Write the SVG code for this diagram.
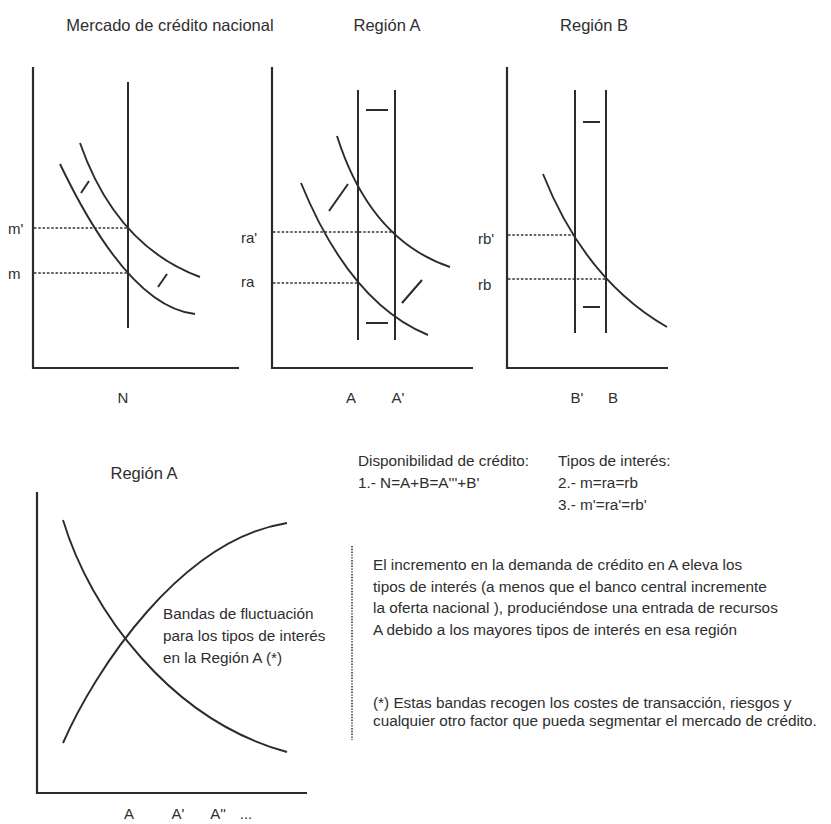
<svg xmlns="http://www.w3.org/2000/svg" width="831" height="824" viewBox="0 0 831 824">
<style>
  text { font-family: "Liberation Sans", Arial, sans-serif; fill: #2e2e2e; }
  .title { font-size: 16.5px; text-anchor: middle; }
  .lbl { font-size: 15px; }
  .ax { font-size: 15px; text-anchor: middle; }
  .body { font-size: 15.3px; }
  .axis { stroke: #2b2b2b; stroke-width: 2.2; fill: none; }
  .ln { stroke: #2b2b2b; stroke-width: 2; fill: none; }
  .curve { stroke: #2b2b2b; stroke-width: 1.9; fill: none; }
  .dash { stroke: #333; stroke-width: 1.4; stroke-dasharray: 2.5 1.8; fill: none; }
  .dot { stroke: #444; stroke-width: 1.7; stroke-dasharray: 1.4 1.4; fill: none; }
</style>
<rect width="831" height="824" fill="#ffffff"/>

<!-- Panel 1: Mercado de crédito nacional -->
<g id="panel-nacional">
  <text class="title" x="170" y="31">Mercado de crédito nacional</text>
  <path class="axis" d="M33,67 V368 H239"/>
  <line class="ln" x1="128" y1="82" x2="128" y2="328"/>
  <path class="curve" d="M60,164 Q128.5,307 195,314"/>
  <path class="curve" d="M80,143 Q116,246 200,277"/>
  <line class="dash" x1="34" y1="228" x2="128" y2="228"/>
  <line class="dash" x1="34" y1="273" x2="128" y2="273"/>
  <line class="ln" x1="81" y1="193" x2="89" y2="181"/>
  <line class="ln" x1="158" y1="287" x2="167" y2="274"/>
  <text class="lbl" x="8" y="234">m'</text>
  <text class="lbl" x="8" y="279">m</text>
  <text class="ax" x="123" y="403">N</text>
</g>

<!-- Panel 2: Región A -->
<g id="panel-region-a">
  <text class="title" x="387" y="31">Región A</text>
  <path class="axis" d="M272,67 V368 H473"/>
  <line class="ln" x1="358" y1="90" x2="358" y2="340"/>
  <line class="ln" x1="395" y1="90" x2="395" y2="340"/>
  <line class="ln" x1="366" y1="110" x2="388" y2="110"/>
  <line class="ln" x1="366" y1="323" x2="388" y2="323"/>
  <line class="ln" x1="329" y1="211" x2="348" y2="184"/>
  <line class="ln" x1="402" y1="303" x2="422" y2="280"/>
  <path class="curve" d="M337,136 Q370,240 450,267"/>
  <path class="curve" d="M301,183 Q350,303 428,335"/>
  <line class="dash" x1="273" y1="232" x2="395" y2="232"/>
  <line class="dash" x1="273" y1="283" x2="358" y2="283"/>
  <text class="lbl" x="241" y="243">ra'</text>
  <text class="lbl" x="241" y="287">ra</text>
  <text class="ax" x="351" y="403">A</text>
  <text class="ax" x="398" y="403">A'</text>
</g>

<!-- Panel 3: Región B -->
<g id="panel-region-b">
  <text class="title" x="594" y="31">Región B</text>
  <path class="axis" d="M507,67 V368 H668"/>
  <line class="ln" x1="575" y1="90" x2="575" y2="333"/>
  <line class="ln" x1="606" y1="90" x2="606" y2="333"/>
  <line class="ln" x1="583" y1="122" x2="600" y2="122"/>
  <line class="ln" x1="583" y1="307" x2="600" y2="307"/>
  <path class="curve" d="M543,174 Q585,280 667,327"/>
  <line class="dash" x1="508" y1="235" x2="575" y2="235"/>
  <line class="dash" x1="508" y1="279" x2="606" y2="279"/>
  <text class="lbl" x="478" y="244">rb'</text>
  <text class="lbl" x="478" y="290">rb</text>
  <text class="ax" x="577" y="403">B'</text>
  <text class="ax" x="613" y="403">B</text>
</g>

<!-- Panel 4: Región A (bandas) -->
<g id="panel-bandas">
  <text class="title" x="144" y="479">Región A</text>
  <path class="axis" d="M37,492 V793 H307"/>
  <path class="curve" d="M63,520 C90,610 170,720 287,752"/>
  <path class="curve" d="M63,743 C95,670 180,540 287,523"/>
  <text class="body" x="163" y="619">Bandas de fluctuación</text>
  <text class="body" x="163" y="641">para los tipos de interés</text>
  <text class="body" x="163" y="663">en la Región A (*)</text>
  <text class="ax" x="129" y="819">A</text>
  <text class="ax" x="178" y="819">A'</text>
  <text class="ax" x="218" y="819">A''</text>
  <text class="ax" x="246" y="819">...</text>
</g>

<!-- Text notes -->
<g id="notes">
  <text class="body" x="358" y="466">Disponibilidad de crédito:</text>
  <text class="body" x="358" y="488">1.- N=A+B=A'''+B'</text>
  <text class="body" x="558" y="466">Tipos de interés:</text>
  <text class="body" x="558" y="488">2.- m=ra=rb</text>
  <text class="body" x="558" y="510">3.- m'=ra'=rb'</text>
</g>

<g id="explanation">
  <line class="dot" x1="352" y1="546" x2="352" y2="740"/>
  <text class="body" x="373" y="570">El incremento en la demanda de crédito en A eleva los</text>
  <text class="body" x="373" y="592">tipos de interés (a menos que el banco central incremente</text>
  <text class="body" x="373" y="613">la oferta nacional ), produciéndose una entrada de recursos</text>
  <text class="body" x="373" y="635">A debido a los mayores tipos de interés en esa región</text>
  <text class="body" x="373" y="708">(*) Estas bandas recogen los costes de transacción, riesgos y</text>
  <text class="body" x="373" y="726">cualquier otro factor que pueda segmentar el mercado de crédito.</text>
</g>
</svg>
